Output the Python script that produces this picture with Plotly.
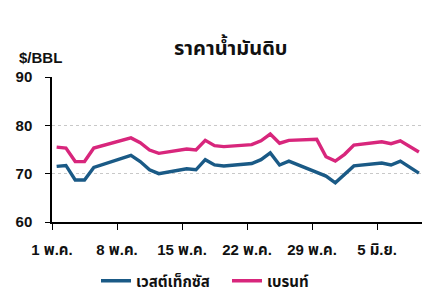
import plotly.graph_objects as go

dates = ["2023-05-01", "2023-05-02", "2023-05-03", "2023-05-04", "2023-05-05",
         "2023-05-08", "2023-05-09", "2023-05-10", "2023-05-11", "2023-05-12",
         "2023-05-15", "2023-05-16", "2023-05-17", "2023-05-18", "2023-05-19",
         "2023-05-22", "2023-05-23", "2023-05-24", "2023-05-25", "2023-05-26",
         "2023-05-29", "2023-05-30", "2023-05-31", "2023-06-01", "2023-06-02",
         "2023-06-05", "2023-06-06", "2023-06-07", "2023-06-08", "2023-06-09"]

wti = [71.5, 71.7, 68.7, 68.7, 71.3,
       73.2, 73.8, 72.5, 70.8, 70.0,
       71.0, 70.8, 72.9, 71.8, 71.6,
       72.1, 72.9, 74.3, 71.8, 72.6,
       None, 69.5, 68.1, 69.8, 71.6,
       72.2, 71.8, 72.6, 71.3, 70.1]

brent = [75.5, 75.3, 72.5, 72.5, 75.3,
         76.9, 77.4, 76.4, 74.9, 74.2,
         75.1, 74.9, 76.9, 75.8, 75.6,
         76.0, 76.8, 78.2, 76.3, 76.9,
         77.1, 73.5, 72.6, 74.0, 75.9,
         76.6, 76.2, 76.8, 75.6, 74.5]

tick_vals = ["2023-04-30 12:00", "2023-05-07 12:00", "2023-05-14 12:00",
             "2023-05-21 12:00", "2023-05-28 12:00", "2023-06-04 12:00"]
tick_text = ["1 พ.ค.", "8 พ.ค.", "15 พ.ค.", "22 พ.ค.", "29 พ.ค.", "5 มิ.ย."]

y_ticks = [60, 70, 80, 90]

series_names = ["เวสต์เท็กซัส", "เบรนท์"]
colors = ["#1a5a86", "#d8267c"]

FONT = "'Liberation Sans', Arial, 'Noto Sans Thai', sans-serif"

fig = go.Figure()
for i, (name, vals, col) in enumerate(zip(series_names, [wti, brent], colors)):
    fig.add_trace(go.Scatter(x=dates, y=vals, name=name, mode="lines",
                             connectgaps=True,
                             legend="legend" if i == 0 else "legend2",
                             line=dict(color=col, width=3.4)))

leg_common = dict(orientation="h", xref="container", yref="container",
                  yanchor="middle", xanchor="left",
                  font=dict(size=15, weight="bold", color="#111"),
                  itemwidth=30, bgcolor="rgba(0,0,0,0)")

fig.update_layout(
    width=432, height=308,
    margin=dict(l=52, r=10, t=77, b=86, autoexpand=False),
    paper_bgcolor="white", plot_bgcolor="white",
    font=dict(family=FONT, color="#111", size=14, weight="bold"),
    showlegend=True,
    legend=dict(x=(104 - 8) / 432, y=1 - 281 / 308, **leg_common),
    legend2=dict(x=(235 - 8) / 432, y=1 - 281 / 308, **leg_common),
    xaxis=dict(type="date", range=["2023-04-30 12:00", "2023-06-09 08:00"],
               automargin=False,
               tickmode="array", tickvals=tick_vals, ticktext=tick_text,
               showgrid=False, zeroline=False,
               showline=True, linecolor="#000", linewidth=1.5,
               ticks="outside", ticklen=6, tickwidth=1.2, tickcolor="#000",
               ticklabelstandoff=7,
               tickfont=dict(size=15, weight="bold", color="#111")),
    yaxis=dict(range=[60, 90], tickmode="array", tickvals=y_ticks,
               automargin=False,
               showgrid=True, gridcolor="#c8c8c8", griddash="dot", gridwidth=1,
               zeroline=False,
               showline=True, linecolor="#000", linewidth=1.5,
               ticks="outside", ticklen=5, tickwidth=1.2, tickcolor="#000",
               ticklabelstandoff=10,
               tickfont=dict(size=15, weight="bold", color="#111")),
    annotations=[
        dict(text="ราคาน้ำมันดิบ", xref="paper", yref="paper",
             x=(231 - 52) / 370, y=(222 - 46) / 145, xanchor="center", yanchor="middle",
             showarrow=False, font=dict(size=20, weight="bold", color="#111")),
        dict(text="$/BBL", xref="paper", yref="paper",
             x=(17 - 52) / 370, y=(222 - 58) / 145, xanchor="left", yanchor="middle",
             showarrow=False, font=dict(size=15, weight="bold", color="#111")),
    ],
)

fig.write_html("out.html")
